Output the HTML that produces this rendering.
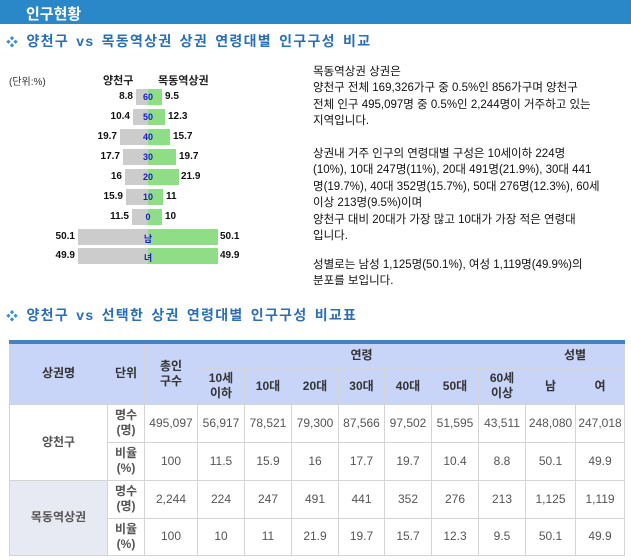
<!DOCTYPE html>
<html><head><meta charset="utf-8"><style>
*{margin:0;padding:0;box-sizing:border-box}
body{width:631px;height:560px;background:#fff;font-family:"Liberation Sans","Noto Sans CJK KR","NanumGothic",sans-serif;position:relative;overflow:hidden;color:#222}
.a{position:absolute;white-space:nowrap}
.hdr{left:0;top:0;width:631px;height:24px;background:#2a88c8;color:#fff;font-size:15px;font-weight:bold;padding:3px 0 0 26px}
.ttl{font-size:14px;font-weight:bold;color:#2a6fb5;letter-spacing:1.3px;word-spacing:2px}
.dia{color:#3a8fd8;font-size:12px}
.g{background:#cccccc;height:16px}
.gr{background:#90dd88;height:16px}
.lb{font-size:10px;color:#111;font-weight:bold}
.cl{font-size:9px;color:#1a1acc;font-weight:bold;width:20px;text-align:center;left:138px}
.txt{font-size:11.5px;color:#111;left:313px}
table{position:absolute;left:9px;top:340px;width:615px;border-collapse:collapse;border-top:4px solid #4a7fc0;font-size:12px;table-layout:fixed}
td,th{border:1px solid #d4d4d4;text-align:center;color:#444;font-weight:normal;line-height:15px}
th{background:#c8d4f8;color:#333;font-weight:bold}
.n{font-family:"Liberation Sans Narrow","Liberation Sans",sans-serif;color:#555}
.u{font-weight:bold;color:#555}
</style></head><body>
<div class="a hdr">인구현황</div>
<div class="a ttl" style="left:6px;top:31px"><span class="dia">❖</span> 양천구 vs 목동역상권 상권 연령대별 인구구성 비교</div>
<div class="a" style="left:9px;top:73px;font-size:10px;color:#333">(단위:%)</div>
<div class="a" style="left:103px;top:72px;font-size:11px;font-weight:bold">양천구</div>
<div class="a" style="left:158px;top:72px;font-size:11px;font-weight:bold">목동역상권</div>

<div class="a g" style="left:136px;top:89px;width:12px"></div><div class="a gr" style="left:148px;top:89px;width:14px"></div>
<div class="a lb" style="right:498px;top:91px">8.8</div><div class="a lb" style="left:165px;top:91px">9.5</div><div class="a cl" style="top:92px">60</div>

<div class="a g" style="left:133px;top:109px;width:15px"></div><div class="a gr" style="left:148px;top:109px;width:17px"></div>
<div class="a lb" style="right:501px;top:111px">10.4</div><div class="a lb" style="left:168px;top:111px">12.3</div><div class="a cl" style="top:112px">50</div>

<div class="a g" style="left:120px;top:129px;width:28px"></div><div class="a gr" style="left:148px;top:129px;width:22px"></div>
<div class="a lb" style="right:514px;top:131px">19.7</div><div class="a lb" style="left:173px;top:131px">15.7</div><div class="a cl" style="top:132px">40</div>

<div class="a g" style="left:123px;top:149px;width:25px"></div><div class="a gr" style="left:148px;top:149px;width:28px"></div>
<div class="a lb" style="right:511px;top:151px">17.7</div><div class="a lb" style="left:179px;top:151px">19.7</div><div class="a cl" style="top:152px">30</div>

<div class="a g" style="left:125px;top:169px;width:23px"></div><div class="a gr" style="left:148px;top:169px;width:31px"></div>
<div class="a lb" style="right:509px;top:171px">16</div><div class="a lb" style="left:181px;top:171px">21.9</div><div class="a cl" style="top:172px">20</div>

<div class="a g" style="left:126px;top:189px;width:22px"></div><div class="a gr" style="left:148px;top:189px;width:15px"></div>
<div class="a lb" style="right:508px;top:191px">15.9</div><div class="a lb" style="left:166px;top:191px">11</div><div class="a cl" style="top:192px">10</div>

<div class="a g" style="left:132px;top:209px;width:16px"></div><div class="a gr" style="left:148px;top:209px;width:14px"></div>
<div class="a lb" style="right:502px;top:211px">11.5</div><div class="a lb" style="left:165px;top:211px">10</div><div class="a cl" style="top:212px">0</div>

<div class="a g" style="left:78px;top:229px;width:70px"></div><div class="a gr" style="left:148px;top:229px;width:70px"></div>
<div class="a lb" style="right:556px;top:231px">50.1</div><div class="a lb" style="left:220px;top:231px">50.1</div><div class="a cl" style="top:232px">남</div>

<div class="a g" style="left:78px;top:248px;width:70px"></div><div class="a gr" style="left:148px;top:248px;width:70px"></div>
<div class="a lb" style="right:556px;top:250px">49.9</div><div class="a lb" style="left:220px;top:250px">49.9</div><div class="a cl" style="top:251px">녀</div>

<div class="a txt" style="top:63px">목동역상권 상권은</div>
<div class="a txt" style="top:79px">양천구 전체 169,326가구 중 0.5%인 856가구며 양천구</div>
<div class="a txt" style="top:96px">전체 인구 495,097명 중 0.5%인 2,244명이 거주하고 있는</div>
<div class="a txt" style="top:112px">지역입니다.</div>
<div class="a txt" style="top:145px">상권내 거주 인구의 연령대별 구성은 10세이하 224명</div>
<div class="a txt" style="top:161px">(10%), 10대 247명(11%), 20대 491명(21.9%), 30대 441</div>
<div class="a txt" style="top:178px">명(19.7%), 40대 352명(15.7%), 50대 276명(12.3%), 60세</div>
<div class="a txt" style="top:194px">이상 213명(9.5%)이며</div>
<div class="a txt" style="top:211px">양천구 대비 20대가 가장 많고 10대가 가장 적은 연령대</div>
<div class="a txt" style="top:227px">입니다.</div>
<div class="a txt" style="top:256px">성별로는 남성 1,125명(50.1%), 여성 1,119명(49.9%)의</div>
<div class="a txt" style="top:272px">분포를 보입니다.</div>

<div class="a ttl" style="left:6px;top:305px"><span class="dia">❖</span> 양천구 vs 선택한 상권 연령대별 인구구성 비교표</div>

<table>
<colgroup><col style="width:98px"><col style="width:37px"><col style="width:53px"><col style="width:47px"><col style="width:47px"><col style="width:47px"><col style="width:46px"><col style="width:47px"><col style="width:47px"><col style="width:47px"><col style="width:50px"><col style="width:49px"></colgroup>
<tr style="height:26px"><th rowspan="2">상권명</th><th rowspan="2">단위</th><th rowspan="2">총인<br>구수</th><th colspan="7">연령</th><th colspan="2">성별</th></tr>
<tr style="height:36px"><th>10세<br>이하</th><th>10대</th><th>20대</th><th>30대</th><th>40대</th><th>50대</th><th>60세<br>이상</th><th>남</th><th>여</th></tr>
<tr style="height:38px"><td rowspan="2" class="u">양천구</td><td class="u">명수<br>(명)</td><td class="n">495,097</td><td class="n">56,917</td><td class="n">78,521</td><td class="n">79,300</td><td class="n">87,566</td><td class="n">97,502</td><td class="n">51,595</td><td class="n">43,511</td><td class="n">248,080</td><td class="n">247,018</td></tr>
<tr style="height:38px"><td class="u">비율<br>(%)</td><td class="n">100</td><td class="n">11.5</td><td class="n">15.9</td><td class="n">16</td><td class="n">17.7</td><td class="n">19.7</td><td class="n">10.4</td><td class="n">8.8</td><td class="n">50.1</td><td class="n">49.9</td></tr>
<tr style="height:38px"><td rowspan="2" class="u" style="background:#e8eaf3">목동역상권</td><td class="u">명수<br>(명)</td><td class="n">2,244</td><td class="n">224</td><td class="n">247</td><td class="n">491</td><td class="n">441</td><td class="n">352</td><td class="n">276</td><td class="n">213</td><td class="n">1,125</td><td class="n">1,119</td></tr>
<tr style="height:37px"><td class="u">비율<br>(%)</td><td class="n">100</td><td class="n">10</td><td class="n">11</td><td class="n">21.9</td><td class="n">19.7</td><td class="n">15.7</td><td class="n">12.3</td><td class="n">9.5</td><td class="n">50.1</td><td class="n">49.9</td></tr>
</table>
</body></html>
